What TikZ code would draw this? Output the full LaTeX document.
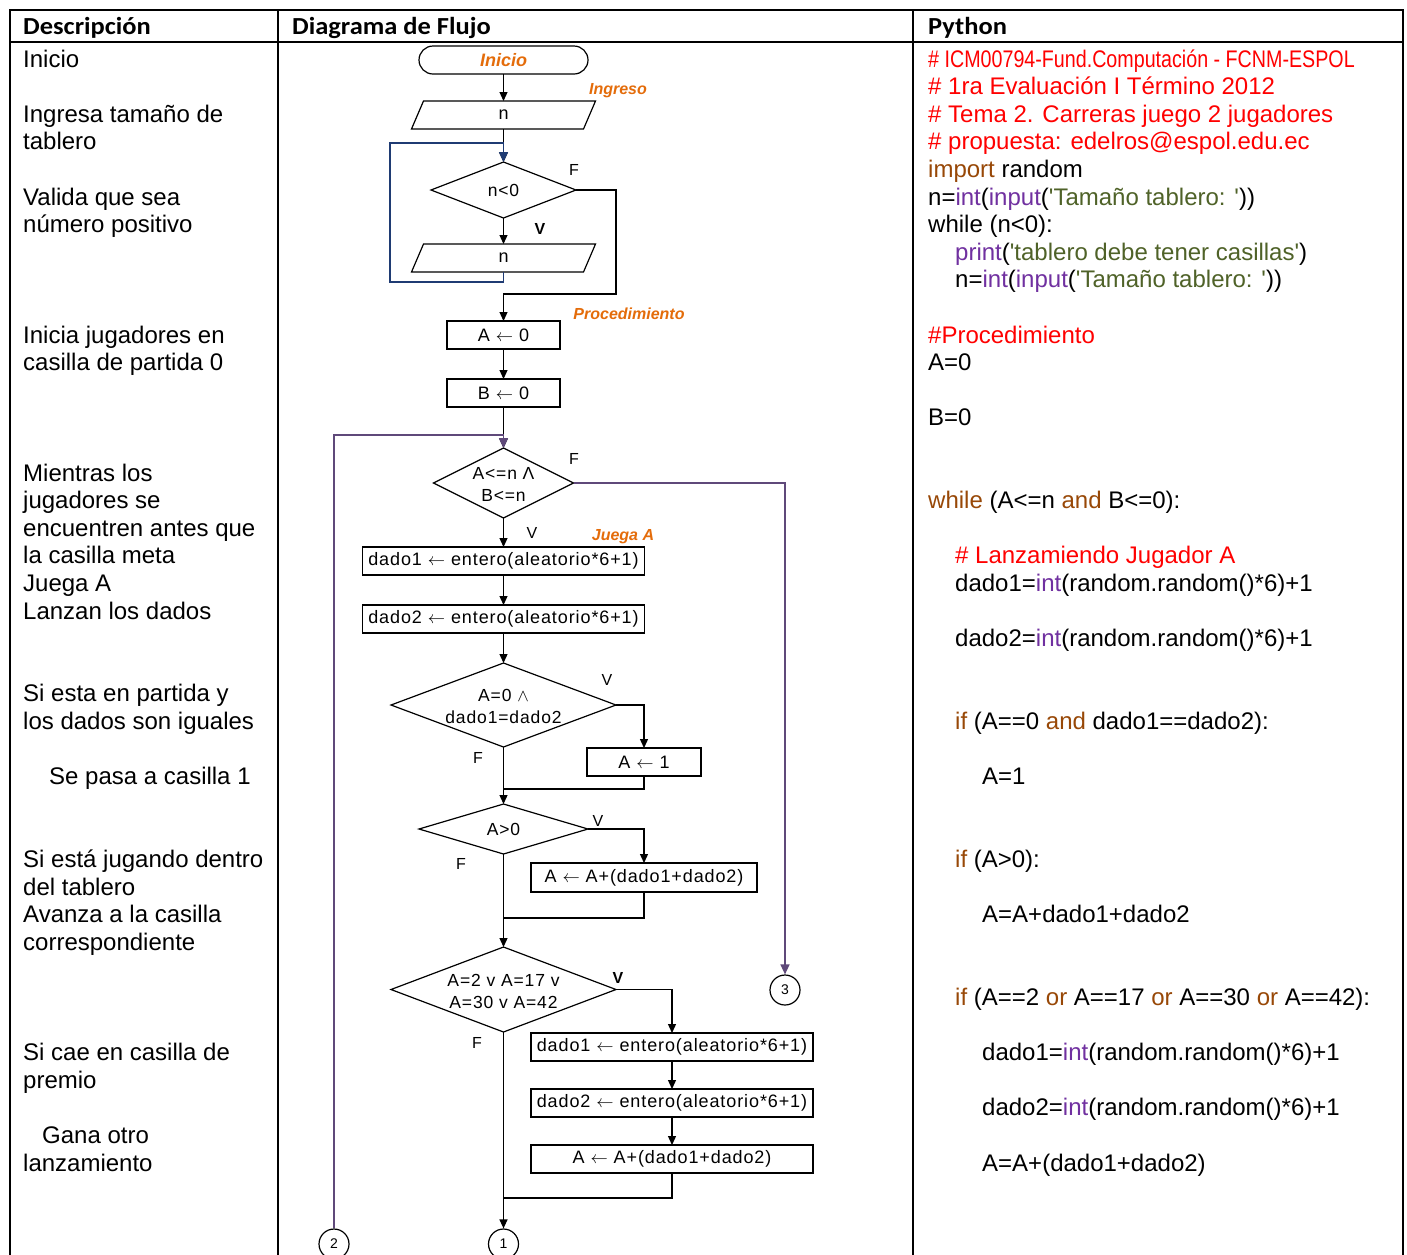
\documentclass[tikz,border=0pt]{standalone}
\usepackage{fontspec}
\setmainfont{Liberation Sans}
\newfontfamily\hdrfont{Carlito}[FakeStretch=1.08]
\newfontfamily\narrowfont{Liberation Sans}[FakeStretch=0.82]
\newfontfamily\flowfont{Liberation Sans}[LetterSpace=5]
\usetikzlibrary{shapes.geometric,shapes.misc,arrows.meta}
\definecolor{lbl}{HTML}{E46C0A}
\definecolor{pyred}{HTML}{FF0000}
\definecolor{kw}{HTML}{984807}
\definecolor{fn}{HTML}{7030A0}
\definecolor{st}{HTML}{4F6228}
\definecolor{pline}{HTML}{5F497A}
\definecolor{bline}{HTML}{1F3B73}
\newcommand\sq{\textquotesingle}
\newcommand\la{$\leftarrow$}
\newcommand\dl[4]{\node[dtxt] (#1) at (#2,{67+27.6*#3}) {#4};}
\begin{document}
\begin{tikzpicture}[x=1pt,y=-1pt,
  tbl/.style={line width=2pt},
  dtxt/.style={inner sep=0pt, anchor=base west, font=\fontsize{24}{28}\selectfont},
  hdr/.style={inner sep=0pt, anchor=base west, font=\hdrfont\bfseries\fontsize{24.5}{28}\selectfont},
  fl/.style={line width=1.2pt},
  arr/.style={line width=1.2pt, -{Triangle[length=9pt,width=8pt]}},
  parr/.style={line width=1.5pt, draw=pline, -{Triangle[length=10pt,width=9pt]}},
  barr/.style={line width=1.5pt, draw=bline, -{Triangle[length=10pt,width=9pt]}},
  fbox/.style={draw, rectangle, line width=1.2pt, inner sep=0pt, outer sep=0pt, minimum height=28pt, font=\flowfont\fontsize{18}{21}\selectfont},
  ptxt/.style={rectangle, inner sep=0pt, outer sep=0pt, minimum height=28pt, font=\flowfont\fontsize{18}{21}\selectfont},
  dia/.style={draw, diamond, line width=1.2pt, inner sep=0pt, outer sep=0pt},
  ftxt/.style={inner sep=0pt, align=center, font=\flowfont\fontsize{17.5}{22}\selectfont},
  cl/.style={inner sep=0pt, font=\fontsize{16}{18}\selectfont},
  clb/.style={inner sep=0pt, font=\bfseries\fontsize{16}{18}\selectfont},
  org/.style={inner sep=0pt, text=lbl, font=\bfseries\itshape\fontsize{16}{18}\selectfont},
  conn/.style={draw, circle, line width=1.2pt, minimum size=30pt, inner sep=0pt, font=\fontsize{14}{16}\selectfont}
]
\useasboundingbox (0,0) rectangle (1407,1254);
\fill[white] (0,0) rectangle (1407,1254);
% table
\draw[tbl] (10,1262) -- (10,10) -- (1403,10) -- (1403,1262);
\draw[tbl] (10,42) -- (1403,42);
\draw[tbl] (278,10) -- (278,1262);
\draw[tbl] (913,10) -- (913,1262);
\node[hdr] (h1) at (23,34.5) {Descripción};
\node[hdr] (h2) at (292,34.5) {Diagrama de Flujo};
\node[hdr] (h3) at (928,34.5) {Python};
% descripcion
\dl{d00}{23}{0}{Inicio}
\dl{d02}{23}{2}{Ingresa tamaño de}
\dl{d03}{23}{3}{tablero}
\dl{d05}{23}{5}{Valida que sea}
\dl{d06}{23}{6}{número positivo}
\dl{d10}{23}{10}{Inicia jugadores en}
\dl{d11}{23}{11}{casilla de partida 0}
\dl{d15}{23}{15}{Mientras los}
\dl{d16}{23}{16}{jugadores se}
\dl{d17}{23}{17}{encuentren antes que}
\dl{d18}{23}{18}{la casilla meta}
\dl{d19}{23}{19}{Juega A}
\dl{d20}{23}{20}{Lanzan los dados}
\dl{d23}{23}{23}{Si esta en partida y}
\dl{d24}{23}{24}{los dados son iguales}
\dl{d26}{49}{26}{Se pasa a casilla 1}
\dl{d29}{23}{29}{Si está jugando dentro}
\dl{d30}{23}{30}{del tablero}
\dl{d31}{23}{31}{Avanza a la casilla}
\dl{d32}{23}{32}{correspondiente}
\dl{d36}{23}{36}{Si cae en casilla de}
\dl{d37}{23}{37}{premio}
\dl{d39}{42}{39}{Gana otro}
\dl{d40}{23}{40}{lanzamiento}
% python
\dl{p00}{928}{0}{\narrowfont\color{pyred}\# ICM00794-Fund.Computación - FCNM-ESPOL}
\dl{p01}{928}{1}{\color{pyred}\# 1ra Evaluación I Término 2012}
\dl{p02}{928}{2}{\color{pyred}\# Tema 2. Carreras juego 2 jugadores}
\dl{p03}{928}{3}{\color{pyred}\# propuesta: edelros@espol.edu.ec}
\dl{p04}{928}{4}{\textcolor{kw}{import} random}
\dl{p05}{928}{5}{n=\textcolor{fn}{int}(\textcolor{fn}{input}(\textcolor{st}{\sq Tamaño tablero: \sq}))}
\dl{p06}{928}{6}{while (n<0):}
\dl{p07}{955}{7}{\textcolor{fn}{print}(\textcolor{st}{\sq tablero debe tener casillas\sq})}
\dl{p08}{955}{8}{n=\textcolor{fn}{int}(\textcolor{fn}{input}(\textcolor{st}{\sq Tamaño tablero: \sq}))}
\dl{p10}{928}{10}{\color{pyred}\#Procedimiento}
\dl{p11}{928}{11}{A=0}
\dl{p13}{928}{13}{B=0}
\dl{p16}{928}{16}{\textcolor{kw}{while} (A<=n \textcolor{kw}{and} B<=0):}
\dl{p18}{955}{18}{\color{pyred}\# Lanzamiendo Jugador A}
\dl{p19}{955}{19}{dado1=\textcolor{fn}{int}(random.random()*6)+1}
\dl{p21}{955}{21}{dado2=\textcolor{fn}{int}(random.random()*6)+1}
\dl{p24}{955}{24}{\textcolor{kw}{if} (A==0 \textcolor{kw}{and} dado1==dado2):}
\dl{p26}{982}{26}{A=1}
\dl{p29}{955}{29}{\textcolor{kw}{if} (A>0):}
\dl{p31}{982}{31}{A=A+dado1+dado2}
\dl{p34}{955}{34}{\textcolor{kw}{if} (A==2 \textcolor{kw}{or} A==17 \textcolor{kw}{or} A==30 \textcolor{kw}{or} A==42):}
\dl{p36}{982}{36}{dado1=\textcolor{fn}{int}(random.random()*6)+1}
\dl{p38}{982}{38}{dado2=\textcolor{fn}{int}(random.random()*6)+1}
\dl{p40}{982}{40}{A=A+(dado1+dado2)}
% flowchart nodes
\node[draw, rounded rectangle, line width=1.2pt, minimum width=169pt, minimum height=28pt, inner sep=0pt, outer sep=0pt, text=lbl, font=\bfseries\itshape\fontsize{18}{21}\selectfont] (ini) at (503.5,60) {Inicio};
\node[ptxt, minimum width=172pt] (in1) at (503.5,115) {n};
\draw[fl] ([xshift=6pt]in1.north west) -- ([xshift=6pt]in1.north east) -- ([xshift=-6pt]in1.south east) -- ([xshift=-6pt]in1.south west) -- cycle;
\node[dia, minimum width=145pt, minimum height=56pt] (d1) at (503.5,190) {};
\node[ftxt] (d1t) at (d1) {n<0};
\node[ptxt, minimum width=172pt] (in2) at (503.5,258) {n};
\draw[fl] ([xshift=6pt]in2.north west) -- ([xshift=6pt]in2.north east) -- ([xshift=-6pt]in2.south east) -- ([xshift=-6pt]in2.south west) -- cycle;
\node[fbox, minimum width=113pt] (a0) at (503.5,335) {A \la{} 0};
\node[fbox, minimum width=113pt] (b0) at (503.5,393) {B \la{} 0};
\node[dia, minimum width=140pt, minimum height=70pt] (d2) at (503.5,483) {};
\node[ftxt] (d2t) at (503.5,484) {A<=n Λ\\B<=n};
\node[fbox, minimum width=282pt] (dd1) at (503.5,561) {dado1 \la{} entero(aleatorio*6+1)};
\node[fbox, minimum width=282pt] (dd2) at (503.5,619) {dado2 \la{} entero(aleatorio*6+1)};
\node[dia, minimum width=225pt, minimum height=84pt] (d3) at (503.5,705) {};
\node[ftxt] (d3t) at (503.5,706) {A=0 $\wedge$\\dado1=dado2};
\node[fbox, minimum width=114pt] (a1) at (644,762) {A \la{} 1};
\node[dia, minimum width=169pt, minimum height=50pt] (d4) at (503.5,829) {};
\node[ftxt] (d4t) at (d4) {A>0};
\node[fbox, minimum width=226pt, minimum height=29pt] (aa) at (644,877.5) {A \la{} A+(dado1+dado2)};
\node[dia, minimum width=225pt, minimum height=85pt] (d5) at (503.5,989.5) {};
\node[ftxt] (d5t) at (503.5,991) {A=2 v A=17 v\\A=30 v A=42};
\node[fbox, minimum width=282pt] (e1) at (672,1047) {dado1 \la{} entero(aleatorio*6+1)};
\node[fbox, minimum width=282pt] (e2) at (672,1103) {dado2 \la{} entero(aleatorio*6+1)};
\node[fbox, minimum width=282pt] (e3) at (672,1159) {A \la{} A+(dado1+dado2)};
\node[conn] (c1) at (503.5,1244) {1};
\node[conn] (c2) at (334,1244) {2};
\node[conn] (c3) at (785,990) {3};
% coordinates
\coordinate (f1) at (616,294);
\coordinate (j1) at (503.5,294);
\coordinate (lb1) at (390,282);
\coordinate (lt1) at (390,143);
\coordinate (pl) at (334,435);
\coordinate (m1) at (503.5,789);
\coordinate (m2) at (503.5,918);
\coordinate (m3) at (503.5,1198);
% connectors
\draw[arr] (ini.south) -- (in1.north);
\draw[arr] (in1.south) -- (d1.north);
\draw[arr] (d1.south) -- (in2.north);
\draw[arr] (d1.east) -| (f1) -- (j1) -- (a0.north);
\draw[barr] (in2.south) |- (lb1) -- (lt1) -| (d1.north);
\draw[arr] (a0.south) -- (b0.north);
\draw[arr] (b0.south) -- (d2.north);
\draw[parr] (c2.north) -- (pl) -| (d2.north);
\draw[parr] (d2.east) -| (c3.north);
\draw[arr] (d2.south) -- (dd1.north);
\draw[arr] (dd1.south) -- (dd2.north);
\draw[arr] (dd2.south) -- (d3.north);
\draw[arr] (d3.east) -| (a1.north);
\draw[fl] (a1.south) |- (m1);
\draw[arr] (d3.south) -- (d4.north);
\draw[arr] (d4.east) -| (aa.north);
\draw[fl] (aa.south) |- (m2);
\draw[arr] (d4.south) -- (d5.north);
\draw[arr] (d5.east) -| (e1.north);
\draw[arr] (e1.south) -- (e2.north);
\draw[arr] (e2.south) -- (e3.north);
\draw[fl] (e3.south) |- (m3);
\draw[arr] (d5.south) -- (c1.north);
% labels
\node[cl] (lf1) at (574,170) {F};
\node[clb] (lv1) at (540,229) {V};
\node[cl] (lf2) at (574,459) {F};
\node[cl] (lv2) at (532,533) {V};
\node[cl] (lv3) at (607,680) {V};
\node[cl] (lf3) at (478,758) {F};
\node[cl] (lv4) at (598,821) {V};
\node[cl] (lf4) at (461,864) {F};
\node[clb] (lv5) at (618,978) {V};
\node[cl] (lf5) at (477,1043) {F};
\node[org] (o1) at (618,91) {Ingreso};
\node[org] (o2) at (629,314) {Procedimiento};
\node[org] (o3) at (623,537) {Juega A};
\end{tikzpicture}
\end{document}
